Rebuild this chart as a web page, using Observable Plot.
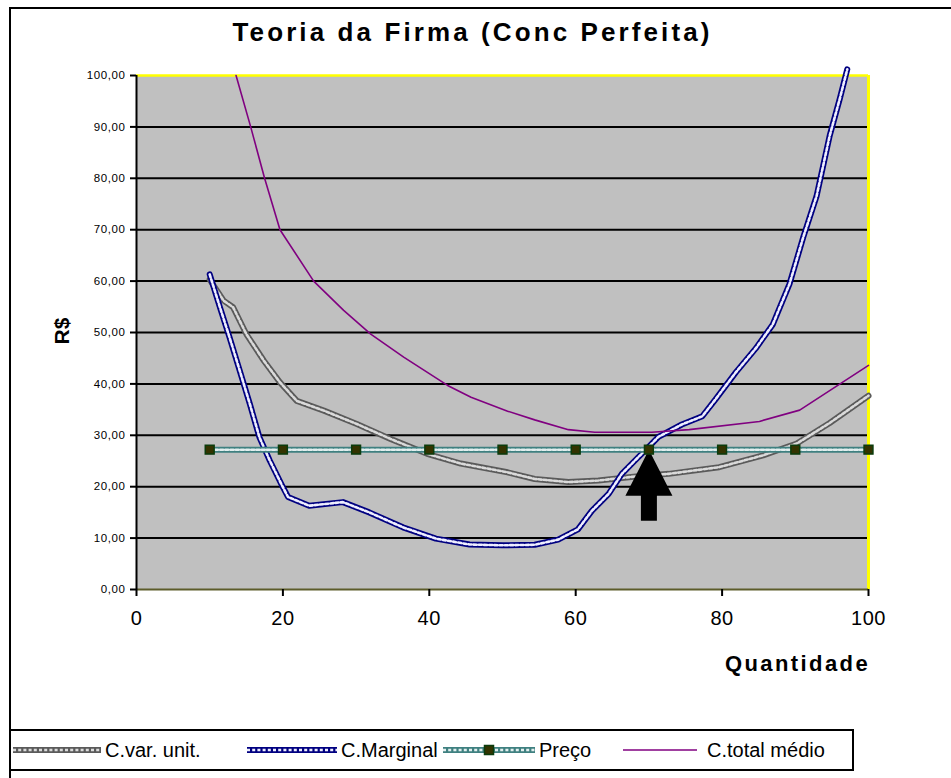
<!DOCTYPE html>
<html>
<head>
<meta charset="utf-8">
<script src="https://cdn.jsdelivr.net/npm/d3@7"></script>
<script src="https://cdn.jsdelivr.net/npm/@observablehq/plot@0.6"></script>
<style>
  html, body { margin: 0; padding: 0; background: #fff; }
  body { width: 951px; height: 778px; overflow: hidden; font-family: "Liberation Sans", Arial, sans-serif; }
  #wrap { position: relative; width: 951px; height: 778px; }
  #wrap svg.plot { position: absolute; left: 0; top: 0; }
  .frame { position: absolute; left: 9px; top: 7px; width: 1000px; height: 1000px; border: 2px solid #000; box-sizing: border-box; }
  .title { position: absolute; left: 0; width: 945px; top: 17px; text-align: center; font-weight: bold; font-size: 26px; letter-spacing: 3.1px; color: #000; }
  .ylab { position: absolute; left: 62px; top: 331px; transform: translate(-50%, -50%) rotate(-90deg); font-weight: bold; font-size: 21px; color: #000; }
  .xlab { position: absolute; left: 725px; top: 651px; font-weight: bold; font-size: 22px; letter-spacing: 2.4px; color: #000; }
  .legend { position: absolute; left: 9px; top: 729px; width: 845px; height: 42px; border: 2px solid #000; box-sizing: border-box; }
  .legend .item { position: absolute; top: 0; height: 38px; display: flex; align-items: center; font-size: 20px; color: #000; white-space: nowrap; }
  .legend svg { display: block; }
  #wrap svg.plot text { letter-spacing: 0.6px; }
</style>
</head>
<body>
<div id="wrap">
  <div class="frame"></div>
  <div class="title">Teoria da Firma (Conc Perfeita)</div>
  <div class="ylab">R$</div>
  <div class="xlab">Quantidade</div>
  <div class="legend" id="legend"></div>
</div>
<script>
// ---- data ----
const quantidadeTicks = [0, 20, 40, 60, 80, 100];
const rsTicks = [0, 10, 20, 30, 40, 50, 60, 70, 80, 90, 100];

// C.var. unit.
const cvuQ = [10.0, 11.9, 13.2, 15.0, 17.4, 19.6, 21.9, 25.6, 30.1, 34.7, 39.7, 44.3, 50.7, 54.4, 59.0, 63.1, 68.2, 72.7, 79.6, 85.6, 90.2, 94.7, 100];
const cvuV = [60.3, 56.2, 54.9, 49.7, 44.5, 40.3, 36.7, 34.8, 32.2, 29.3, 26.4, 24.5, 22.8, 21.5, 20.9, 21.2, 22.0, 22.5, 23.8, 26.1, 28.4, 32.4, 37.7];

// C.Marginal
const cmgQ = [10.0, 11.4, 12.7, 14.1, 15.5, 16.8, 18.2, 20.0, 20.7, 23.6, 28.2, 31.8, 36.4, 40.9, 45.5, 50.0, 54.4, 57.6, 60.3, 62.2, 64.5, 66.3, 68.1, 70.0, 71.3, 74.5, 77.3, 79.1, 81.9, 84.6, 86.9, 89.2, 91.1, 92.9, 94.7, 96.1, 97.1];
const cmgV = [61.3, 54.9, 49.1, 42.6, 36.0, 29.6, 25.1, 19.9, 18.0, 16.3, 17.0, 15.0, 12.1, 9.9, 8.75, 8.6, 8.7, 9.7, 11.7, 15.3, 18.6, 22.5, 25.1, 27.8, 29.7, 32.1, 33.7, 37.0, 42.3, 46.9, 51.5, 59.4, 68.6, 76.5, 88.3, 95.6, 101.2];

// Preço
const precoQ = [10, 20, 30, 40, 50, 60, 70, 80, 90, 100];
const precoV = [27.2, 27.2, 27.2, 27.2, 27.2, 27.2, 27.2, 27.2, 27.2, 27.2];

// C.total médio
const ctmQ = [13.6, 15.6, 17.5, 19.6, 24.2, 28.3, 32.0, 36.5, 42.5, 45.7, 50.7, 54.4, 59.0, 62.6, 70.4, 75.5, 85.1, 90.6, 100];
const ctmV = [100, 90, 80, 70, 60, 54.3, 49.7, 45.2, 39.7, 37.4, 34.7, 33.0, 31.1, 30.6, 30.6, 31.1, 32.7, 34.9, 43.6];

// equilibrium marked by the arrow (quantity where price = marginal cost)
const arrowQ = 70;

const seriesNames = ["C.var. unit.", "C.Marginal", "Preço", "C.total médio"];

// ---- tables ----
const toRows = (qs, vs) => qs.map((q, i) => ({q, v: vs[i]}));
const cvu = toRows(cvuQ, cvuV);
const cmg = toRows(cmgQ, cmgV);
const preco = toRows(precoQ, precoV);
const ctm = toRows(ctmQ, ctmV);
const arrowRow = [{q: arrowQ, v: precoV[precoQ.indexOf(arrowQ)]}];

const fmt = d => d.toFixed(2).replace(".", ",");

const DARK_W = 6, LIGHT_W = 2.6, DASH = "3,2.2";
function chain(data, dark, light) {
  return [
    Plot.line(data, {x: "q", y: "v", stroke: dark, strokeWidth: DARK_W, strokeLinejoin: "round"}),
    Plot.line(data, {x: "q", y: "v", stroke: light, strokeWidth: LIGHT_W, strokeDasharray: DASH})
  ];
}

const arrowSymbol = {
  draw(context) {
    context.moveTo(0, 0);
    context.lineTo(23.5, 46);
    context.lineTo(8, 46);
    context.lineTo(8, 71);
    context.lineTo(-8, 71);
    context.lineTo(-8, 46);
    context.lineTo(-23.5, 46);
    context.closePath();
  }
};

const yMax = rsTicks[rsTicks.length - 1];
const xMax = quantidadeTicks[quantidadeTicks.length - 1];

const chart = Plot.plot({
  width: 951,
  height: 778,
  marginLeft: 136,
  marginRight: 83,
  marginTop: 75,
  marginBottom: 189,
  x: {domain: [0, xMax]},
  y: {domain: [0, yMax]},
  style: {background: "transparent", color: "black", fontFamily: "Liberation Sans, Arial, sans-serif", overflow: "visible"},
  marks: [
    Plot.frame({fill: "#c0c0c0", stroke: "none"}),
    Plot.ruleY(rsTicks.filter(t => t > 0 && t < yMax), {stroke: "black", strokeWidth: 2}),
    Plot.ruleY([yMax], {stroke: "#ffff00", strokeWidth: 2.5}),
    Plot.ruleX([xMax], {stroke: "#ffff00", strokeWidth: 3}),
    Plot.ruleY([0], {stroke: "#5c5c2a", strokeWidth: 2}),
    Plot.axisY({ticks: rsTicks, tickFormat: fmt, tickSize: 6, tickPadding: 5, fontSize: 11.5, stroke: "black", strokeWidth: 2, label: null}),
    Plot.axisX({ticks: quantidadeTicks, tickSize: 7, tickPadding: 14, fontSize: 20, stroke: "black", strokeWidth: 2, label: null}),
    Plot.ruleX([0], {stroke: "black", strokeWidth: 2}),
    ...chain(cvu, "#5a5a5a", "#dadada"),
    ...chain(cmg, "#000080", "#eeeeff"),
    Plot.dot(arrowRow, {x: "q", y: "v", symbol: arrowSymbol, r: 10, fill: "black", stroke: "none"}),
    ...chain(preco, "#3f8080", "#e2eeee"),
    Plot.dot(preco, {x: "q", y: "v", symbol: "square", r: 5, fill: "#333300", stroke: "#0b3b0b", strokeWidth: 1.5}),
    Plot.line(ctm, {x: "q", y: "v", stroke: "#800080", strokeWidth: 1.6})
  ]
});
chart.classList.add("plot");
document.getElementById("wrap").prepend(chart);

// ---- legend ----
const legend = document.getElementById("legend");
const legendItems = [
  {name: seriesNames[0], left: 2, w: 88, dark: "#5a5a5a", light: "#dadada"},
  {name: seriesNames[1], left: 236, w: 90, dark: "#000080", light: "#eeeeff"},
  {name: seriesNames[2], left: 432, w: 92, dark: "#3f8080", light: "#e2eeee", marker: true},
  {name: seriesNames[3], left: 604, w: 84, plain: "#800080"}
];
legendItems.forEach(it => {
  const div = document.createElement("div");
  div.className = "item";
  div.style.left = it.left + "px";
  const ns = "http://www.w3.org/2000/svg";
  const s = document.createElementNS(ns, "svg");
  s.setAttribute("width", it.w);
  s.setAttribute("height", 12);
  s.style.marginRight = "4px";
  const mk = (attrs) => {
    const l = document.createElementNS(ns, "line");
    Object.entries(attrs).forEach(([k, v]) => l.setAttribute(k, v));
    s.appendChild(l);
  };
  if (it.plain) {
    mk({x1: 8, x2: it.w - 2, y1: 6, y2: 6, stroke: it.plain, "stroke-width": 1.6});
    s.style.marginRight = "8px";
  } else {
    mk({x1: 0, x2: it.w, y1: 6, y2: 6, stroke: it.dark, "stroke-width": DARK_W});
    mk({x1: 0, x2: it.w, y1: 6, y2: 6, stroke: it.light, "stroke-width": LIGHT_W, "stroke-dasharray": DASH});
    if (it.marker) {
      const r = document.createElementNS(ns, "rect");
      r.setAttribute("x", it.w / 2 - 4.5); r.setAttribute("y", 1.5);
      r.setAttribute("width", 9); r.setAttribute("height", 9);
      r.setAttribute("fill", "#333300"); r.setAttribute("stroke", "#0b3b0b"); r.setAttribute("stroke-width", 1.5);
      s.appendChild(r);
    }
  }
  div.appendChild(s);
  const t = document.createElement("span");
  t.textContent = it.name;
  div.appendChild(t);
  legend.appendChild(div);
});
</script>
</body>
</html>
